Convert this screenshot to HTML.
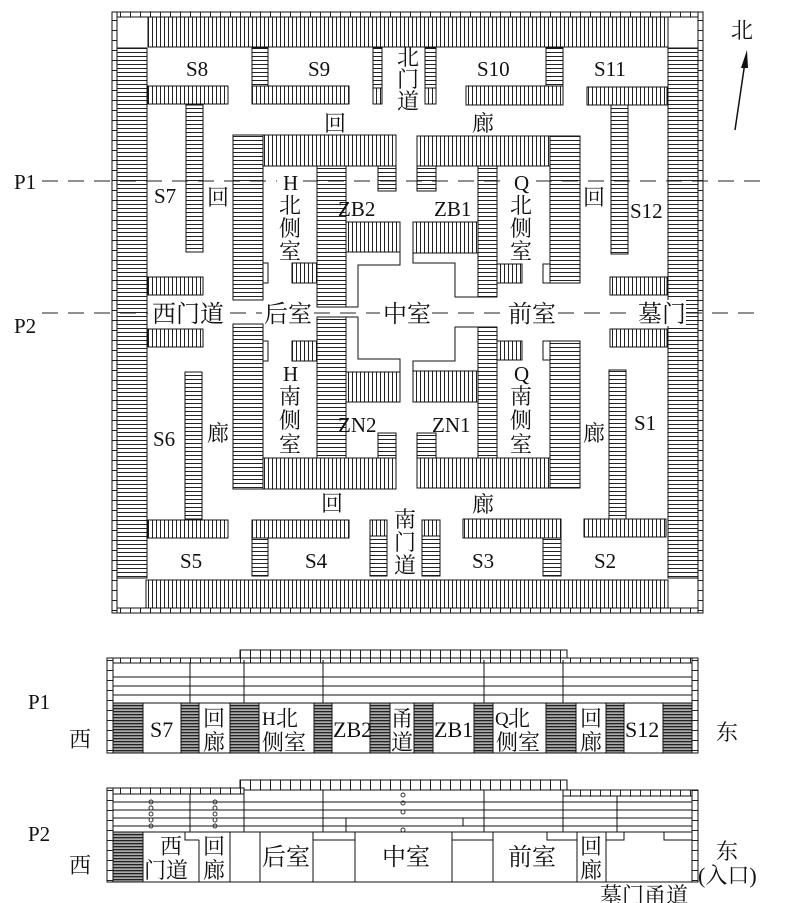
<!DOCTYPE html>
<html><head><meta charset="utf-8"><style>
html,body{margin:0;padding:0;background:#fff}
svg{display:block}
.t{font-family:"Liberation Serif","Noto Serif CJK SC",serif;font-size:21px;fill:#111}
.c{font-family:"Liberation Serif","Noto Serif CJK SC",serif;font-size:22px;fill:#111}
.m{font-family:"Liberation Serif","Noto Serif CJK SC",serif;font-size:24px;fill:#111}
</style></head><body>
<svg width="798" height="903" viewBox="0 0 798 903" xmlns="http://www.w3.org/2000/svg">
<defs>
<pattern id="pv" width="4" height="4" patternUnits="userSpaceOnUse"><rect width="4" height="4" fill="#fff"/><rect x="0" y="0" width="1" height="4" fill="#222"/></pattern>
<pattern id="ph" width="4" height="4" patternUnits="userSpaceOnUse"><rect width="4" height="4" fill="#fff"/><rect x="0" y="0" width="4" height="1" fill="#222"/></pattern>
<pattern id="pd" width="3" height="3" patternUnits="userSpaceOnUse"><rect width="3" height="3" fill="#aaa"/><rect x="0" y="0" width="3" height="1.3" fill="#222"/></pattern>
<pattern id="pbv" width="6" height="10" patternUnits="userSpaceOnUse"><rect width="6" height="10" fill="#fff"/><rect x="0" y="0" width="6" height="1" fill="#222"/></pattern>
<pattern id="pbh" width="10" height="6" patternUnits="userSpaceOnUse"><rect width="10" height="6" fill="#fff"/><rect x="0" y="0" width="1" height="6" fill="#222"/></pattern>
</defs>
<g stroke="#111" stroke-width="1">
<rect x="112" y="12" width="591" height="601" fill="#fff"/>
<rect x="112" y="12" width="591" height="5" fill="url(#pbh)"/>
<rect x="112" y="608" width="591" height="5" fill="url(#pbh)"/>
<rect x="112" y="12" width="5" height="601" fill="url(#pbv)"/>
<rect x="698" y="12" width="5" height="601" fill="url(#pbv)"/>
<rect x="117" y="17" width="581" height="591" fill="#fff"/>
<rect x="148" y="17" width="520" height="30" fill="url(#pv)"/>
<rect x="146" y="580" width="522" height="28" fill="url(#pv)"/>
<rect x="117" y="48" width="30" height="530" fill="url(#ph)"/>
<rect x="668" y="48" width="30" height="530" fill="url(#ph)"/>
</g>
<g stroke="#111" stroke-width="1">
<rect x="148" y="86" width="80" height="18" fill="url(#pv)"/>
<rect x="252" y="48" width="16" height="38" fill="url(#ph)"/>
<rect x="252" y="86" width="97" height="18" fill="url(#pv)"/>
<rect x="373" y="48" width="9" height="40" fill="url(#ph)"/>
<rect x="373" y="88" width="9" height="16" fill="url(#pv)"/>
<rect x="425" y="48" width="11" height="40" fill="url(#ph)"/>
<rect x="425" y="88" width="11" height="16" fill="url(#pv)"/>
<rect x="546" y="48" width="17" height="38" fill="url(#ph)"/>
<rect x="466" y="86" width="97" height="19" fill="url(#pv)"/>
<rect x="587" y="87" width="80" height="18" fill="url(#pv)"/>
<rect x="186" y="105" width="17" height="147" fill="url(#ph)"/>
<rect x="611" y="105" width="17" height="149" fill="url(#ph)"/>
<rect x="148" y="277" width="55" height="18" fill="url(#pv)"/>
<rect x="610" y="277" width="57" height="18" fill="url(#pv)"/>
<rect x="233" y="135" width="30" height="165" fill="url(#ph)"/>
<rect x="263" y="135" width="133" height="31" fill="url(#pv)"/>
<rect x="378" y="166" width="18" height="25" fill="url(#ph)"/>
<rect x="317" y="166" width="29" height="141" fill="url(#ph)"/>
<rect x="346" y="222" width="54" height="30" fill="url(#pv)"/>
<rect x="263" y="263" width="5" height="20" fill="#fff"/>
<rect x="292" y="263" width="25" height="20" fill="url(#pv)"/>
<polyline points="400,252 400,265 358,265 358,307 346,307" fill="none"/>
<rect x="417" y="136" width="133" height="30" fill="url(#pv)"/>
<rect x="550" y="136" width="30" height="147" fill="url(#ph)"/>
<rect x="417" y="166" width="19" height="25" fill="url(#ph)"/>
<rect x="478" y="166" width="19" height="131" fill="url(#ph)"/>
<rect x="413" y="222" width="65" height="31" fill="url(#pv)"/>
<polyline points="413,253 413,263 455,263 455,297 478,297" fill="none"/>
<rect x="497" y="264" width="25" height="19" fill="url(#pv)"/>
<rect x="543" y="264" width="7" height="19" fill="#fff"/>
</g>
<g stroke="#111" stroke-width="1" transform="translate(0,624) scale(1,-1)">
<rect x="148" y="86" width="80" height="18" fill="url(#pv)"/>
<rect x="252" y="48" width="16" height="38" fill="url(#ph)"/>
<rect x="252" y="86" width="97" height="18" fill="url(#pv)"/>
<rect x="370" y="48" width="17" height="40" fill="url(#ph)"/>
<rect x="370" y="88" width="17" height="16" fill="url(#pv)"/>
<rect x="422" y="48" width="18" height="40" fill="url(#ph)"/>
<rect x="422" y="88" width="18" height="16" fill="url(#pv)"/>
<rect x="543" y="48" width="18" height="38" fill="url(#ph)"/>
<rect x="463" y="86" width="98" height="19" fill="url(#pv)"/>
<rect x="584" y="87" width="82" height="18" fill="url(#pv)"/>
<rect x="185" y="105" width="17" height="147" fill="url(#ph)"/>
<rect x="609" y="105" width="17" height="149" fill="url(#ph)"/>
<rect x="148" y="277" width="55" height="18" fill="url(#pv)"/>
<rect x="610" y="277" width="57" height="18" fill="url(#pv)"/>
<rect x="233" y="135" width="30" height="165" fill="url(#ph)"/>
<rect x="263" y="135" width="133" height="31" fill="url(#pv)"/>
<rect x="378" y="166" width="18" height="25" fill="url(#ph)"/>
<rect x="317" y="166" width="29" height="141" fill="url(#ph)"/>
<rect x="346" y="222" width="54" height="30" fill="url(#pv)"/>
<rect x="263" y="263" width="5" height="20" fill="#fff"/>
<rect x="292" y="263" width="25" height="20" fill="url(#pv)"/>
<polyline points="400,252 400,265 358,265 358,307 346,307" fill="none"/>
<rect x="417" y="136" width="133" height="30" fill="url(#pv)"/>
<rect x="550" y="136" width="30" height="147" fill="url(#ph)"/>
<rect x="417" y="166" width="19" height="25" fill="url(#ph)"/>
<rect x="478" y="166" width="19" height="131" fill="url(#ph)"/>
<rect x="413" y="222" width="65" height="31" fill="url(#pv)"/>
<polyline points="413,253 413,263 455,263 455,297 478,297" fill="none"/>
<rect x="497" y="264" width="25" height="19" fill="url(#pv)"/>
<rect x="543" y="264" width="7" height="19" fill="#fff"/>
</g>
<g stroke="#222" stroke-width="1" stroke-dasharray="16,10" fill="none">
<line x1="42" y1="181" x2="762" y2="181"/>
<line x1="42" y1="313" x2="148" y2="313"/>
<line x1="230" y1="313" x2="262" y2="313"/>
<line x1="314" y1="313" x2="380" y2="313"/>
<line x1="432" y1="313" x2="505" y2="313"/>
<line x1="558" y1="313" x2="634" y2="313"/>
<line x1="686" y1="313" x2="762" y2="313"/>
</g>
<g fill="#fff">
<rect x="150" y="300" width="78" height="26"/><rect x="264" y="300" width="48" height="26"/><rect x="383" y="300" width="48" height="26"/><rect x="508" y="300" width="48" height="26"/><rect x="636" y="300" width="50" height="26"/>
<rect x="277" y="172" width="26" height="20"/><rect x="508" y="172" width="26" height="20"/>
</g>
<g class="t">
<text x="14" y="189">P1</text><text x="14" y="333">P2</text>
<text x="186" y="76">S8</text><text x="308" y="76">S9</text><text x="477" y="76">S10</text><text x="594" y="76">S11</text>
<text x="154" y="203">S7</text><text x="630" y="218">S12</text>
<text x="338" y="216">ZB2</text><text x="434" y="216">ZB1</text>
<text x="283" y="190">H</text><text x="514" y="190">Q</text>
<text x="283" y="381">H</text><text x="514" y="381">Q</text>
<text x="338" y="432">ZN2</text><text x="432" y="432">ZN1</text>
<text x="153" y="446">S6</text><text x="634" y="430">S1</text>
<text x="180" y="568">S5</text><text x="305" y="568">S4</text><text x="472" y="568">S3</text><text x="594" y="568">S2</text>
</g>
<g class="c">
<text x="397" y="65">北</text><text x="397" y="87">门</text><text x="397" y="109">道</text>
<text x="324" y="131">回</text><text x="472" y="131">廊</text>
<text x="207" y="205">回</text><text x="583" y="205">回</text>
<text x="279" y="213">北</text><text x="279" y="236">侧</text><text x="279" y="259">室</text>
<text x="510" y="213">北</text><text x="510" y="236">侧</text><text x="510" y="259">室</text>
<text x="279" y="404">南</text><text x="279" y="428">侧</text><text x="279" y="452">室</text>
<text x="510" y="404">南</text><text x="510" y="428">侧</text><text x="510" y="452">室</text>
<text x="207" y="441">廊</text><text x="583" y="441">廊</text>
<text x="321" y="511">回</text><text x="472" y="512">廊</text>
<text x="394" y="527">南</text><text x="394" y="550">门</text><text x="394" y="573">道</text>
<text x="731" y="38">北</text>
</g>
<g class="m">
<text x="152" y="322">西门道</text><text x="264" y="322">后室</text><text x="383" y="322">中室</text><text x="508" y="322">前室</text><text x="638" y="322">墓门</text>
</g>
<line x1="735" y1="130" x2="745" y2="62" stroke="#111" stroke-width="1.5"/>
<polygon points="747,50 741,68 748,68" fill="#111"/>

<g stroke="#111" stroke-width="1">
<rect x="240" y="650" width="327" height="10" fill="url(#pbh)"/>
<rect x="107" y="658" width="591" height="5" fill="url(#pbh)"/>
<rect x="107" y="658" width="6" height="95" fill="url(#pbv)"/>
<rect x="692" y="658" width="6" height="95" fill="url(#pbv)"/>
<rect x="113" y="663" width="579" height="40" fill="#fff"/>
<line x1="113" y1="677" x2="692" y2="677"/><line x1="113" y1="686" x2="692" y2="686"/><line x1="113" y1="695" x2="692" y2="695"/>
<line x1="190" y1="663" x2="190" y2="703"/><line x1="244" y1="660" x2="244" y2="703"/><line x1="323" y1="660" x2="323" y2="703"/><line x1="484" y1="660" x2="484" y2="703"/><line x1="563" y1="660" x2="563" y2="703"/>
<rect x="113" y="703" width="579" height="50" fill="url(#pd)"/>
<rect x="143" y="703" width="38" height="50" fill="#fff"/>
<rect x="199" y="703" width="31" height="50" fill="#fff"/>
<rect x="259" y="703" width="55" height="50" fill="#fff"/>
<rect x="332" y="703" width="38" height="50" fill="#fff"/>
<rect x="390" y="703" width="24" height="50" fill="#fff"/>
<rect x="433" y="703" width="41" height="50" fill="#fff"/>
<rect x="493" y="703" width="53" height="50" fill="#fff"/>
<rect x="576" y="703" width="30" height="50" fill="#fff"/>
<rect x="624" y="703" width="39" height="50" fill="#fff"/>
</g>
<g class="t">
<text x="150" y="737" font-size="22">S7</text><text x="333" y="737" font-size="22">ZB2</text><text x="434" y="737" font-size="22">ZB1</text><text x="625" y="737" font-size="22">S12</text>
<text x="262" y="725" font-size="19">H</text><text x="495" y="725" font-size="19">Q</text>
<text x="28" y="709">P1</text><text x="28" y="841">P2</text>
</g>
<g class="c">
<text x="203" y="726">回</text><text x="203" y="750">廊</text>
<text x="276" y="726">北</text><text x="262" y="750">侧室</text>
<text x="391" y="726">甬</text><text x="391" y="750">道</text>
<text x="508" y="726">北</text><text x="496" y="750">侧室</text>
<text x="580" y="726">回</text><text x="580" y="750">廊</text>
<text x="69" y="747">西</text><text x="716" y="740">东</text>
</g>

<g stroke="#111" stroke-width="1">
<rect x="240" y="780" width="327" height="10" fill="url(#pbh)"/>
<rect x="107" y="788" width="137" height="6" fill="url(#pbh)"/>
<rect x="563" y="790" width="135" height="6" fill="url(#pbh)"/>
<rect x="107" y="788" width="6" height="94" fill="url(#pbv)"/>
<rect x="692" y="790" width="6" height="92" fill="url(#pbv)"/>
<line x1="113" y1="802" x2="692" y2="802"/><line x1="113" y1="810" x2="692" y2="810"/><line x1="113" y1="818" x2="692" y2="818"/><line x1="113" y1="826" x2="692" y2="826"/><line x1="113" y1="832" x2="692" y2="832"/>
<line x1="190" y1="794" x2="190" y2="832"/><line x1="244" y1="790" x2="244" y2="832"/><line x1="323" y1="790" x2="323" y2="832"/><line x1="484" y1="790" x2="484" y2="832"/><line x1="563" y1="790" x2="563" y2="832"/><line x1="617" y1="796" x2="617" y2="832"/>
<polyline points="346,832 346,818 463,818 463,826" fill="none"/>
<line x1="107" y1="882" x2="698" y2="882"/>
<rect x="113" y="832" width="30" height="50" fill="url(#pd)"/>
<line x1="143" y1="832" x2="143" y2="882"/><line x1="199" y1="840" x2="199" y2="882"/><line x1="230" y1="832" x2="230" y2="882"/><line x1="260" y1="832" x2="260" y2="882"/><line x1="313" y1="832" x2="313" y2="882"/><line x1="355" y1="832" x2="355" y2="882"/><line x1="452" y1="832" x2="452" y2="882"/><line x1="493" y1="832" x2="493" y2="882"/><line x1="577" y1="832" x2="577" y2="882"/><line x1="606" y1="832" x2="606" y2="882"/>
<polyline points="185,832 185,840 199,840" fill="none"/>
<line x1="313" y1="840" x2="355" y2="840"/><line x1="452" y1="840" x2="493" y2="840"/>
<polyline points="547,832 547,840 577,840" fill="none"/>
<polyline points="606,840 624,840 624,832" fill="none"/>
<polyline points="664,832 664,840 692,840" fill="none"/>
</g>
<g fill="none" stroke="#333" stroke-width="1">
<circle cx="151" cy="802" r="2"/><circle cx="151" cy="808" r="2"/><circle cx="151" cy="814" r="2"/><circle cx="151" cy="820" r="2"/><circle cx="151" cy="826" r="2"/>
<circle cx="215" cy="802" r="2"/><circle cx="215" cy="808" r="2"/><circle cx="215" cy="814" r="2"/><circle cx="215" cy="820" r="2"/><circle cx="215" cy="826" r="2"/>
<circle cx="403" cy="795" r="2"/><circle cx="403" cy="803" r="2"/><circle cx="403" cy="812" r="2"/><circle cx="403" cy="830" r="2"/>
</g>
<g class="c">
<text x="160" y="854">西</text><text x="144" y="878">门道</text>
<text x="203" y="854">回</text><text x="203" y="878">廊</text>
<text x="262" y="865" font-size="24">后室</text><text x="382" y="865" font-size="24">中室</text><text x="508" y="865" font-size="24">前室</text>
<text x="580" y="854">回</text><text x="580" y="878">廊</text>
<text x="69" y="873">西</text><text x="716" y="859">东</text>
<text x="698" y="883">(入口)</text>
<text x="600" y="903">墓门甬道</text>
</g>
</svg>
</body></html>
